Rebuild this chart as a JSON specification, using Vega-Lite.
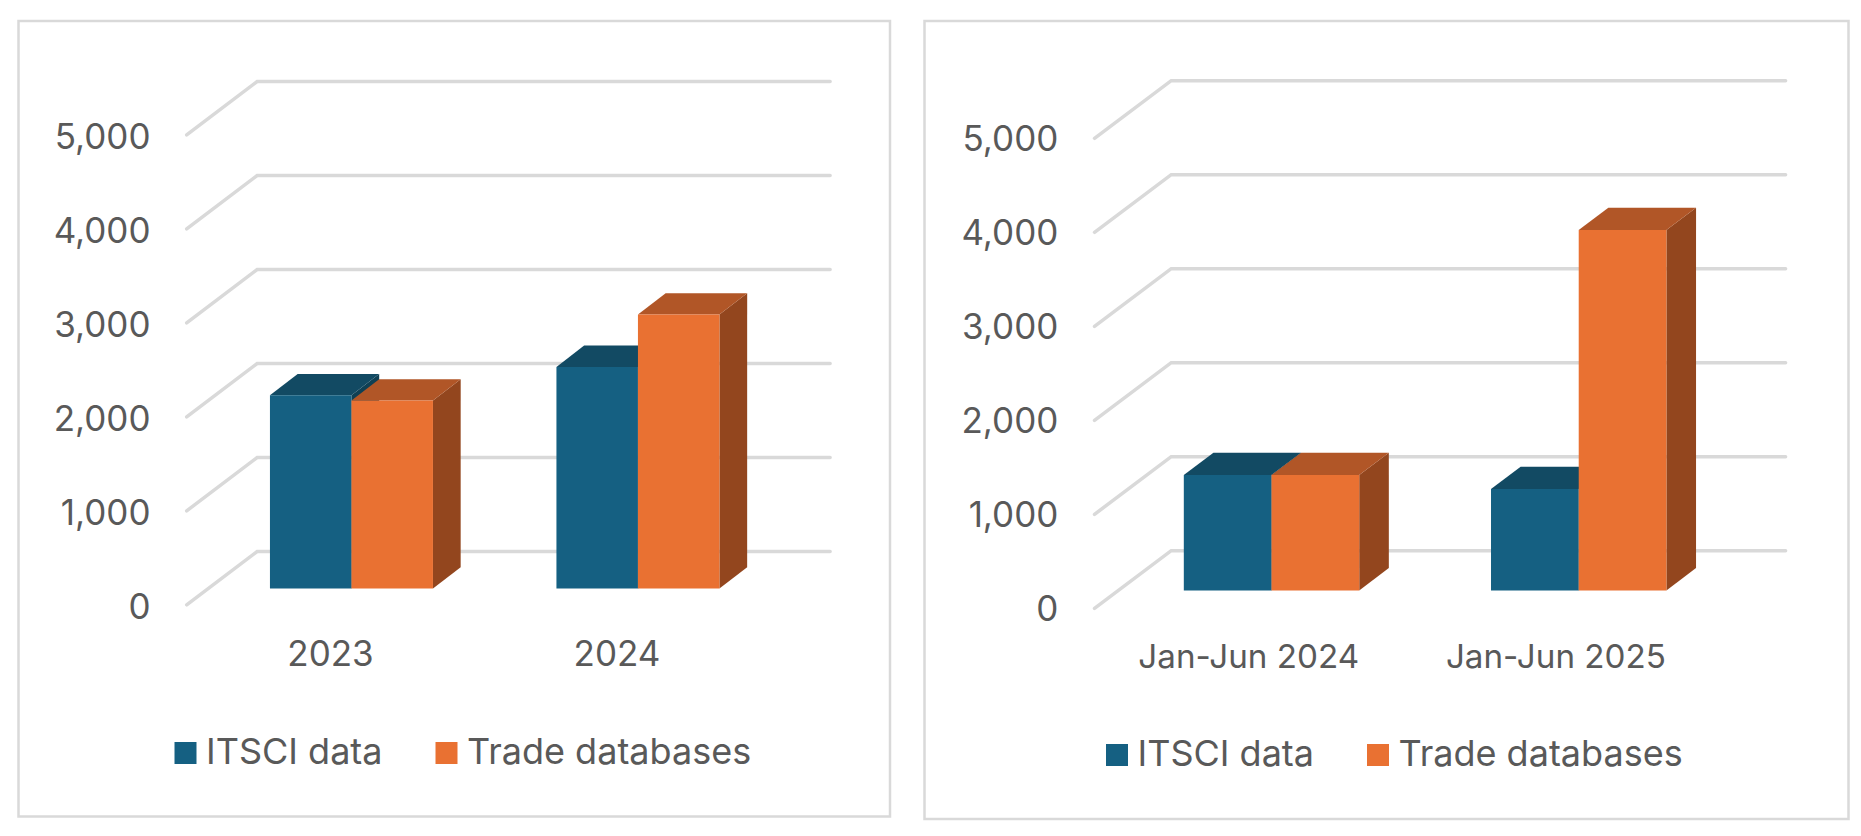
{
  "$schema": "https://vega.github.io/schema/vega-lite/v6.json",
  "background": "white",
  "padding": {"left": 16.5, "top": 19, "right": 0, "bottom": 0},
  "spacing": 31,
  "datasets": {
    "ticks": [{"tick": 0}, {"tick": 1000}, {"tick": 2000}, {"tick": 3000}, {"tick": 4000}, {"tick": 5000}],
    "annual": [
      {"period": "2023", "series": "ITSCI data", "value": 2056},
      {"period": "2023", "series": "Trade databases", "value": 2000},
      {"period": "2024", "series": "ITSCI data", "value": 2358},
      {"period": "2024", "series": "Trade databases", "value": 2915}
    ],
    "halfyear": [
      {"period": "Jan-Jun 2024", "series": "ITSCI data", "value": 1227},
      {"period": "Jan-Jun 2024", "series": "Trade databases", "value": 1227},
      {"period": "Jan-Jun 2025", "series": "ITSCI data", "value": 1078},
      {"period": "Jan-Jun 2025", "series": "Trade databases", "value": 3833}
    ]
  },
  "hconcat": [
    {
      "width": 871.5,
      "height": 795.5,
      "data": {"name": "annual"},
      "transform": [
        {"calculate": "indexof(['2023','2024'],datum.period)", "as": "slot"},
        {"calculate": "datum.series==='ITSCI data'?0:1", "as": "idx"},
        {"calculate": "datum.slot+0.2907+datum.idx*0.2845", "as": "x0"},
        {"calculate": "datum.x0+0.2845", "as": "x1"},
        {"calculate": "datum.value+173", "as": "top"}
      ],
      "encoding": {
        "x": {"field": "px", "type": "quantitative", "axis": null, "scale": {"domain": [-0.587, 2.455], "nice": false, "zero": false}},
        "y": {
          "field": "py",
          "type": "quantitative",
          "title": null,
          "scale": {"domain": [-2252, 6211], "nice": false, "zero": false},
          "axis": {"values": [0, 1000, 2000, 3000, 4000, 5000], "format": ",d", "offset": -131.5, "domain": false, "ticks": false, "grid": false, "labelPadding": 0, "labelOffset": 2.5}
        }
      },
      "layer": [
        {
          "data": {"name": "ticks"},
          "transform": [
            {"calculate": "[0,1,2]", "as": "t"},
            {"flatten": ["t"]},
            {"calculate": "[0,0.246,2.246][datum.t]", "as": "px"},
            {"calculate": "datum.tick+(datum.t>0?567:0)", "as": "py"}
          ],
          "mark": {"type": "line", "stroke": "#d9d9d9", "strokeWidth": 3.5, "strokeCap": "round", "strokeJoin": "miter"},
          "encoding": {"detail": {"field": "tick"}}
        },
        {
          "transform": [
            {"calculate": "[0,1]", "as": "t"},
            {"flatten": ["t"]},
            {"calculate": "datum.x1+datum.t*0.0967", "as": "px"},
            {"calculate": "datum.top+datum.t*227", "as": "py"},
            {"calculate": "173+datum.t*227", "as": "py2"},
            {"calculate": "datum.series+' side'", "as": "face"}
          ],
          "mark": {"type": "area", "orient": "vertical"},
          "encoding": {
            "y2": {"field": "py2"},
            "detail": {"field": "period"},
            "color": {
              "field": "face",
              "type": "nominal",
              "scale": {
                "domain": ["ITSCI data", "Trade databases", "ITSCI data top", "Trade databases top", "ITSCI data side", "Trade databases side"],
                "range": ["#156082", "#e97132", "#124a63", "#b15627", "#0f4054", "#93461e"]
              }
            }
          }
        },
        {
          "transform": [
            {"calculate": "[0,1,2,3]", "as": "t"},
            {"flatten": ["t"]},
            {"calculate": "[datum.x0,datum.x0+0.0967,datum.x1,datum.x1+0.0967][datum.t]", "as": "px"},
            {"calculate": "datum.top+(datum.t>0?227:0)", "as": "py"},
            {"calculate": "datum.top+(datum.t>2?227:0)", "as": "py2"},
            {"calculate": "datum.series+' top'", "as": "face"}
          ],
          "mark": {"type": "area", "orient": "vertical"},
          "encoding": {
            "y2": {"field": "py2"},
            "detail": {"field": "period"},
            "color": {
              "field": "face",
              "type": "nominal",
              "scale": {
                "domain": ["ITSCI data", "Trade databases", "ITSCI data top", "Trade databases top", "ITSCI data side", "Trade databases side"],
                "range": ["#156082", "#e97132", "#124a63", "#b15627", "#0f4054", "#93461e"]
              }
            }
          }
        },
        {
          "transform": [
            {"calculate": "datum.x0", "as": "px"},
            {"calculate": "datum.top", "as": "py"},
            {"calculate": "173", "as": "py2"}
          ],
          "mark": {"type": "rect"},
          "encoding": {
            "x2": {"field": "x1"},
            "y2": {"field": "py2"},
            "color": {
              "field": "series",
              "type": "nominal",
              "scale": {
                "domain": ["ITSCI data", "Trade databases", "ITSCI data top", "Trade databases top", "ITSCI data side", "Trade databases side"],
                "range": ["#156082", "#e97132", "#124a63", "#b15627", "#0f4054", "#93461e"]
              },
              "legend": {
                "title": null,
                "values": ["ITSCI data", "Trade databases"],
                "orient": "none",
                "legendX": 149,
                "legendY": 714,
                "direction": "horizontal",
                "columns": 2,
                "columnPadding": 45,
                "symbolType": "square",
                "symbolSize": 484,
                "symbolStrokeWidth": 0,
                "labelOffset": 2.5
              }
            }
          }
        },
        {
          "transform": [
            {"filter": "datum.idx===0"},
            {"calculate": "datum.slot+0.502", "as": "px"},
            {"calculate": "-535", "as": "py"}
          ],
          "mark": {"type": "text", "font": "Inter", "fontSize": 35, "color": "#595959", "baseline": "middle"},
          "encoding": {"text": {"field": "period"}}
        }
      ]
    },
    {
      "width": 924,
      "height": 798,
      "data": {"name": "halfyear"},
      "transform": [
        {"calculate": "indexof(['Jan-Jun 2024','Jan-Jun 2025'],datum.period)", "as": "slot"},
        {"calculate": "datum.series==='ITSCI data'?0:1", "as": "idx"},
        {"calculate": "datum.slot+0.2907+datum.idx*0.2855", "as": "x0"},
        {"calculate": "datum.x0+0.2855", "as": "x1"},
        {"calculate": "datum.value+191", "as": "top"}
      ],
      "encoding": {
        "x": {"field": "px", "type": "quantitative", "axis": null, "scale": {"domain": [-0.5534, 2.4544], "nice": false, "zero": false}},
        "y": {
          "field": "py",
          "type": "quantitative",
          "title": null,
          "scale": {"domain": [-2241, 6248], "nice": false, "zero": false},
          "axis": {"values": [0, 1000, 2000, 3000, 4000, 5000], "format": ",d", "offset": -133.3, "domain": false, "ticks": false, "grid": false, "labelPadding": 0, "labelOffset": 1.5}
        }
      },
      "layer": [
        {
          "data": {"name": "ticks"},
          "transform": [
            {"calculate": "[0,1,2]", "as": "t"},
            {"flatten": ["t"]},
            {"calculate": "[0,0.2497,2.2497][datum.t]", "as": "px"},
            {"calculate": "datum.tick+(datum.t>0?613:0)", "as": "py"}
          ],
          "mark": {"type": "line", "stroke": "#d9d9d9", "strokeWidth": 3.5, "strokeCap": "round", "strokeJoin": "miter"},
          "encoding": {"detail": {"field": "tick"}}
        },
        {
          "transform": [
            {"calculate": "[0,1]", "as": "t"},
            {"flatten": ["t"]},
            {"calculate": "datum.x1+datum.t*0.0964", "as": "px"},
            {"calculate": "datum.top+datum.t*237", "as": "py"},
            {"calculate": "191+datum.t*237", "as": "py2"},
            {"calculate": "datum.series+' side'", "as": "face"}
          ],
          "mark": {"type": "area", "orient": "vertical"},
          "encoding": {
            "y2": {"field": "py2"},
            "detail": {"field": "period"},
            "color": {
              "field": "face",
              "type": "nominal",
              "scale": {
                "domain": ["ITSCI data", "Trade databases", "ITSCI data top", "Trade databases top", "ITSCI data side", "Trade databases side"],
                "range": ["#156082", "#e97132", "#124a63", "#b15627", "#0f4054", "#93461e"]
              }
            }
          }
        },
        {
          "transform": [
            {"calculate": "[0,1,2,3]", "as": "t"},
            {"flatten": ["t"]},
            {"calculate": "[datum.x0,datum.x0+0.0964,datum.x1,datum.x1+0.0964][datum.t]", "as": "px"},
            {"calculate": "datum.top+(datum.t>0?237:0)", "as": "py"},
            {"calculate": "datum.top+(datum.t>2?237:0)", "as": "py2"},
            {"calculate": "datum.series+' top'", "as": "face"}
          ],
          "mark": {"type": "area", "orient": "vertical"},
          "encoding": {
            "y2": {"field": "py2"},
            "detail": {"field": "period"},
            "color": {
              "field": "face",
              "type": "nominal",
              "scale": {
                "domain": ["ITSCI data", "Trade databases", "ITSCI data top", "Trade databases top", "ITSCI data side", "Trade databases side"],
                "range": ["#156082", "#e97132", "#124a63", "#b15627", "#0f4054", "#93461e"]
              }
            }
          }
        },
        {
          "transform": [
            {"calculate": "datum.x0", "as": "px"},
            {"calculate": "datum.top", "as": "py"},
            {"calculate": "191", "as": "py2"}
          ],
          "mark": {"type": "rect"},
          "encoding": {
            "x2": {"field": "x1"},
            "y2": {"field": "py2"},
            "color": {
              "field": "series",
              "type": "nominal",
              "scale": {
                "domain": ["ITSCI data", "Trade databases", "ITSCI data top", "Trade databases top", "ITSCI data side", "Trade databases side"],
                "range": ["#156082", "#e97132", "#124a63", "#b15627", "#0f4054", "#93461e"]
              },
              "legend": {
                "title": null,
                "values": ["ITSCI data", "Trade databases"],
                "orient": "none",
                "legendX": 174.5,
                "legendY": 716,
                "direction": "horizontal",
                "columns": 2,
                "columnPadding": 45,
                "symbolType": "square",
                "symbolSize": 484,
                "symbolStrokeWidth": 0,
                "labelOffset": 2.5
              }
            }
          }
        },
        {
          "transform": [
            {"filter": "datum.idx===0"},
            {"calculate": "datum.slot+0.502", "as": "px"},
            {"calculate": "-528", "as": "py"}
          ],
          "mark": {"type": "text", "font": "Inter", "fontSize": 33.2, "color": "#595959", "baseline": "middle"},
          "encoding": {"text": {"field": "period"}}
        }
      ]
    }
  ],
  "resolve": {"scale": {"color": "independent"}},
  "config": {
    "view": {"stroke": "#d9d9d9", "strokeWidth": 2.5},
    "font": "Inter",
    "axis": {"labelFont": "Inter", "labelFontSize": 35, "labelColor": "#595959"},
    "legend": {"labelFont": "Inter", "labelFontSize": 36, "labelColor": "#595959", "labelLimit": 400, "padding": 0}
  }
}
